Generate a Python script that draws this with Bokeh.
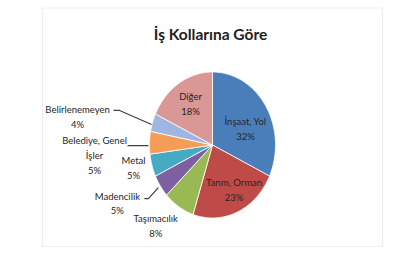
import numpy as np
from bokeh.plotting import figure
from bokeh.models import Range1d, BoxAnnotation
from bokeh.core.properties import value
from bokeh.embed import file_html
from bokeh.resources import INLINE

# ---- data ----
title = "İş Kollarına Göre"
categories = ["İnşaat, Yol", "Tarım, Orman", "Taşımacılık", "Madencilik",
              "Metal", "Belediye, Genel\nİşler", "Belirlenemeyen", "Diğer"]
values = [32, 23, 8, 5, 5, 5, 4, 18]
colors = ["#4A7EBB", "#BE4B48", "#98B954", "#7D60A0",
          "#46AAC5", "#F59D56", "#9FB7E0", "#D99795"]

# ---- layout (pixel-like coordinates) ----
cx, cy, rx, ry = 212, 144.5, 63, 73
label_r = [0.62, 0.66, 1, 1, 1, 1, 1, 0.65]
label_off = [(0, 8), (5, 1), (-23, 19), (-43, 17.5), (-18.5, 3), (-55, 12.5), (-75, -5.5), (0, -1)]
# elbow leader lines relative to the slice edge point: start, elbow, end
leaders = {
    3: [(-16, 12.5), (-12, 12.5), (-2, 1.5)],
    5: [(-22, 3), (-12, 3), (-1, 3)],
    6: [(-39, -12), (-33, -12), (-1, 2)],
}

p = figure(width=420, height=280, x_range=Range1d(0, 420), y_range=Range1d(280, 0),
           output_backend="svg", toolbar_location=None, min_border=0)
p.axis.visible = False
p.grid.visible = False
p.outline_line_color = None
p.background_fill_color = "white"

p.add_layout(BoxAnnotation(left=42, right=382, top=7.5, bottom=246,
                           fill_color=None, line_color="#c8c8c8", line_width=1.2))

total = float(sum(values))
fr = np.array(values) / total
starts = np.concatenate([[0], np.cumsum(fr)[:-1]])
ends = np.cumsum(fr)

xs, ys = [], []
for s, e in zip(starts, ends):
    t = np.linspace(s, e, 80) * 2 * np.pi
    xs.append(list(np.concatenate([[cx], cx + rx * np.sin(t)])))
    ys.append(list(np.concatenate([[cy], cy - ry * np.cos(t)])))
p.patches(xs=xs, ys=ys, fill_color=colors, line_color="white", line_width=0.8)

lx, ly, ltxt = [], [], []
mlx, mly = [], []
for i, (c, v) in enumerate(zip(categories, values)):
    mid = (starts[i] + ends[i]) / 2 * 2 * np.pi
    ex = cx + rx * label_r[i] * np.sin(mid)
    ey = cy - ry * label_r[i] * np.cos(mid)
    lx.append(ex + label_off[i][0]); ly.append(ey + label_off[i][1])
    ltxt.append(f"{c}\n{v}%")
    if i in leaders:
        px = cx + rx * np.sin(mid); py = cy - ry * np.cos(mid)
        mlx.append([px + d[0] for d in leaders[i]])
        mly.append([py + d[1] for d in leaders[i]])

p.multi_line(xs=mlx, ys=mly, line_color="#404040", line_width=1.2)
p.text(x=lx, y=ly, text=ltxt, text_font=value("Lato"), text_font_size="9.5px",
       text_color="#262626", text_align="center", text_baseline="middle",
       text_line_height=1.35)

p.text(x=[210], y=[33], text=[title], text_font=value("Lato"), text_font_size="15.5px",
       text_font_style="bold", text_color="#222222", text_align="center",
       text_baseline="middle")

open("out.html", "w").write(file_html(p, INLINE))
